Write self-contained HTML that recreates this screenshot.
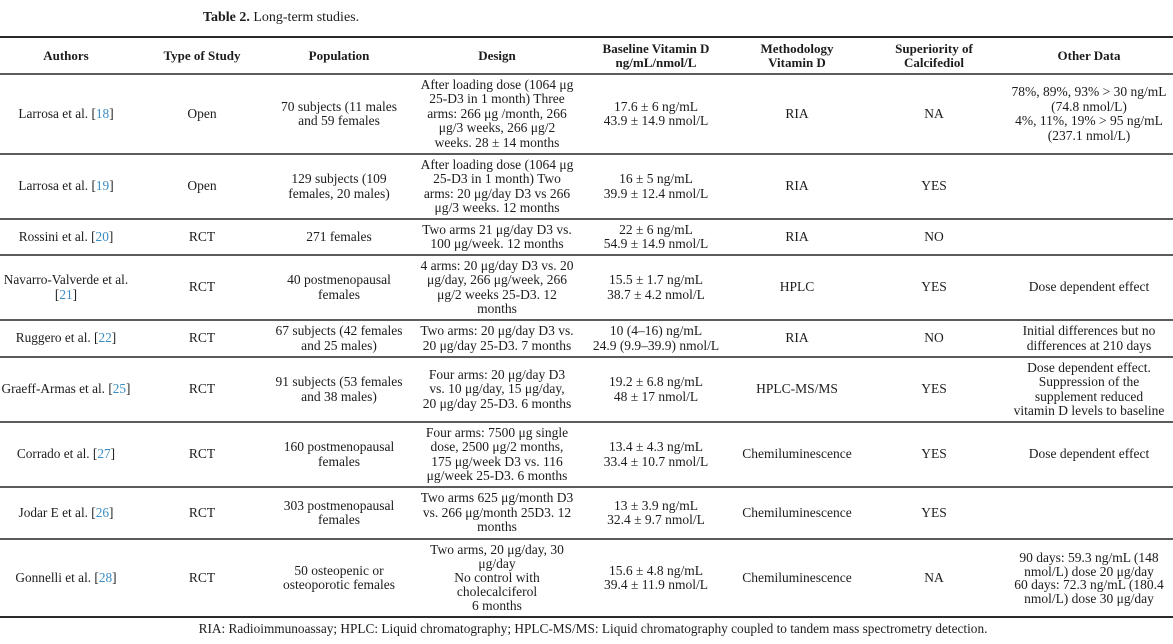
<!DOCTYPE html>
<html>
<head>
<meta charset="utf-8">
<style>
  html, body { margin:0; padding:0; background:#fff; }
  body { width:1173px; height:644px; position:relative; overflow:hidden;
         font-family:"Liberation Serif", "DejaVu Serif", serif; color:#1c1c1c; }
  .title { position:absolute; left:0; width:562px; top:9px; text-align:center; font-size:14px; line-height:18px; white-space:nowrap; }
  .rule { position:absolute; left:0; width:1173px; height:2px; background:#5c5c5c; }
  .rule.top { background:#2a2a2a; }
  .row { position:absolute; left:0; width:1173px; }
  .c { position:absolute; top:0; bottom:0; display:flex; align-items:center; justify-content:center;
       text-align:center; font-size:13.5px; line-height:14.5px; white-space:nowrap; }
  .h .c { font-weight:bold; font-size:13px; line-height:14px; }
  .c1 { left:0; width:132px; }
  .row:not(.h) .c1 { font-size:13.3px; }
  .c2 { left:152px; width:100px; }
  .c3 { left:259px; width:160px; }
  .c4 { left:417px; width:160px; }
  .c5 { left:566px; width:180px; }
  .c6 { left:727px; width:140px; }
  .c7 { left:864px; width:140px; }
  .c8 { left:1004px; width:170px; }
  .ref { color:#3b8cc4; }
  .foot { position:absolute; left:0; width:1186px; top:621px; text-align:center; font-size:13.3px; line-height:16px; white-space:nowrap; }
</style>
</head>
<body>
<div class="title"><b>Table 2.</b> Long-term studies.</div>

<div class="rule top" style="top:36px"></div>
<div class="rule" style="top:73px"></div>
<div class="rule" style="top:153px"></div>
<div class="rule" style="top:218px"></div>
<div class="rule" style="top:254px"></div>
<div class="rule" style="top:319px"></div>
<div class="rule" style="top:356px"></div>
<div class="rule" style="top:421px"></div>
<div class="rule" style="top:486px"></div>
<div class="rule" style="top:538px"></div>
<div class="rule top" style="top:616px"></div>

<div class="row h" style="top:38px;height:35px">
  <div class="c c1">Authors</div>
  <div class="c c2">Type of Study</div>
  <div class="c c3">Population</div>
  <div class="c c4">Design</div>
  <div class="c c5">Baseline Vitamin D<br>ng/mL/nmol/L</div>
  <div class="c c6">Methodology<br>Vitamin D</div>
  <div class="c c7">Superiority of<br>Calcifediol</div>
  <div class="c c8">Other Data</div>
</div>

<div class="row" style="top:75px;height:78px">
  <div class="c c1"><span>Larrosa et al. [<span class="ref">18</span>]</span></div>
  <div class="c c2">Open</div>
  <div class="c c3">70 subjects (11 males<br>and 59 females</div>
  <div class="c c4">After loading dose (1064 μg<br>25-D3 in 1 month) Three<br>arms: 266 μg /month, 266<br>μg/3 weeks, 266 μg/2<br>weeks. 28 ± 14 months</div>
  <div class="c c5">17.6 ± 6 ng/mL<br>43.9 ± 14.9 nmol/L</div>
  <div class="c c6">RIA</div>
  <div class="c c7">NA</div>
  <div class="c c8">78%, 89%, 93% &gt; 30 ng/mL<br>(74.8 nmol/L)<br>4%, 11%, 19% &gt; 95 ng/mL<br>(237.1 nmol/L)</div>
</div>

<div class="row" style="top:155px;height:63px">
  <div class="c c1"><span>Larrosa et al. [<span class="ref">19</span>]</span></div>
  <div class="c c2">Open</div>
  <div class="c c3">129 subjects (109<br>females, 20 males)</div>
  <div class="c c4">After loading dose (1064 μg<br>25-D3 in 1 month) Two<br>arms: 20 μg/day D3 vs 266<br>μg/3 weeks. 12 months</div>
  <div class="c c5">16 ± 5 ng/mL<br>39.9 ± 12.4 nmol/L</div>
  <div class="c c6">RIA</div>
  <div class="c c7">YES</div>
  <div class="c c8"></div>
</div>

<div class="row" style="top:220px;height:34px">
  <div class="c c1"><span>Rossini et al. [<span class="ref">20</span>]</span></div>
  <div class="c c2">RCT</div>
  <div class="c c3">271 females</div>
  <div class="c c4">Two arms 21 μg/day D3 vs.<br>100 μg/week. 12 months</div>
  <div class="c c5">22 ± 6 ng/mL<br>54.9 ± 14.9 nmol/L</div>
  <div class="c c6">RIA</div>
  <div class="c c7">NO</div>
  <div class="c c8"></div>
</div>

<div class="row" style="top:256px;height:63px">
  <div class="c c1"><span>Navarro-Valverde et al.<br>[<span class="ref">21</span>]</span></div>
  <div class="c c2">RCT</div>
  <div class="c c3">40 postmenopausal<br>females</div>
  <div class="c c4">4 arms: 20 μg/day D3 vs. 20<br>μg/day, 266 μg/week, 266<br>μg/2 weeks 25-D3. 12<br>months</div>
  <div class="c c5">15.5 ± 1.7 ng/mL<br>38.7 ± 4.2 nmol/L</div>
  <div class="c c6">HPLC</div>
  <div class="c c7">YES</div>
  <div class="c c8">Dose dependent effect</div>
</div>

<div class="row" style="top:321px;height:35px">
  <div class="c c1"><span>Ruggero et al. [<span class="ref">22</span>]</span></div>
  <div class="c c2">RCT</div>
  <div class="c c3">67 subjects (42 females<br>and 25 males)</div>
  <div class="c c4">Two arms: 20 μg/day D3 vs.<br>20 μg/day 25-D3. 7 months</div>
  <div class="c c5">10 (4–16) ng/mL<br>24.9 (9.9–39.9) nmol/L</div>
  <div class="c c6">RIA</div>
  <div class="c c7">NO</div>
  <div class="c c8">Initial differences but no<br>differences at 210 days</div>
</div>

<div class="row" style="top:358px;height:63px">
  <div class="c c1"><span>Graeff-Armas et al. [<span class="ref">25</span>]</span></div>
  <div class="c c2">RCT</div>
  <div class="c c3">91 subjects (53 females<br>and 38 males)</div>
  <div class="c c4">Four arms: 20 μg/day D3<br>vs. 10 μg/day, 15 μg/day,<br>20 μg/day 25-D3. 6 months</div>
  <div class="c c5">19.2 ± 6.8 ng/mL<br>48 ± 17 nmol/L</div>
  <div class="c c6">HPLC-MS/MS</div>
  <div class="c c7">YES</div>
  <div class="c c8" style="line-height:14.2px">Dose dependent effect.<br>Suppression of the<br>supplement reduced<br>vitamin D levels to baseline</div>
</div>

<div class="row" style="top:423px;height:63px">
  <div class="c c1"><span>Corrado et al. [<span class="ref">27</span>]</span></div>
  <div class="c c2">RCT</div>
  <div class="c c3">160 postmenopausal<br>females</div>
  <div class="c c4">Four arms: 7500 μg single<br>dose, 2500 μg/2 months,<br>175 μg/week D3 vs. 116<br>μg/week 25-D3. 6 months</div>
  <div class="c c5">13.4 ± 4.3 ng/mL<br>33.4 ± 10.7 nmol/L</div>
  <div class="c c6">Chemiluminescence</div>
  <div class="c c7">YES</div>
  <div class="c c8">Dose dependent effect</div>
</div>

<div class="row" style="top:488px;height:50px">
  <div class="c c1"><span>Jodar E et al. [<span class="ref">26</span>]</span></div>
  <div class="c c2">RCT</div>
  <div class="c c3">303 postmenopausal<br>females</div>
  <div class="c c4">Two arms 625 μg/month D3<br>vs. 266 μg/month 25D3. 12<br>months</div>
  <div class="c c5">13 ± 3.9 ng/mL<br>32.4 ± 9.7 nmol/L</div>
  <div class="c c6">Chemiluminescence</div>
  <div class="c c7">YES</div>
  <div class="c c8"></div>
</div>

<div class="row" style="top:540px;height:76px">
  <div class="c c1"><span>Gonnelli et al. [<span class="ref">28</span>]</span></div>
  <div class="c c2">RCT</div>
  <div class="c c3">50 osteopenic or<br>osteoporotic females</div>
  <div class="c c4" style="line-height:13.9px">Two arms, 20 μg/day, 30<br>μg/day<br>No control with<br>cholecalciferol<br>6 months</div>
  <div class="c c5">15.6 ± 4.8 ng/mL<br>39.4 ± 11.9 nmol/L</div>
  <div class="c c6">Chemiluminescence</div>
  <div class="c c7">NA</div>
  <div class="c c8" style="line-height:13.5px">90 days: 59.3 ng/mL (148<br>nmol/L) dose 20 μg/day<br>60 days: 72.3 ng/mL (180.4<br>nmol/L) dose 30 μg/day</div>
</div>

<div class="foot">RIA: Radioimmunoassay; HPLC: Liquid chromatography; HPLC-MS/MS: Liquid chromatography coupled to tandem mass spectrometry detection.</div>
</body>
</html>
